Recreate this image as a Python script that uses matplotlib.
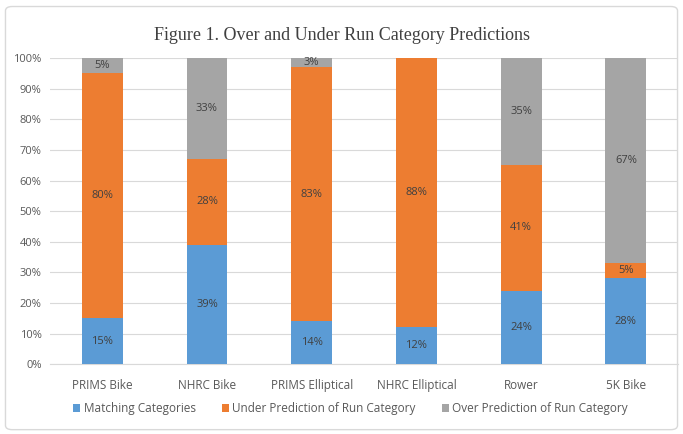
import matplotlib
matplotlib.use("Agg")
import matplotlib.pyplot as plt
from matplotlib.patches import FancyBboxPatch
import numpy as np

categories = ["PRIMS Bike", "NHRC Bike", "PRIMS Elliptical", "NHRC Elliptical", "Rower", "5K Bike"]
matching = [15, 39, 14, 12, 24, 28]
under = [80, 28, 83, 88, 41, 5]
over = [5, 33, 3, 0, 35, 67]
series_names = ["Matching Categories", "Under Prediction of Run Category", "Over Prediction of Run Category"]
colors = ["#5B9BD5", "#ED7D31", "#A5A5A5"]
yticks = [0, 10, 20, 30, 40, 50, 60, 70, 80, 90, 100]

fig = plt.figure(figsize=(6.83, 4.34), dpi=100)
fig.patch.set_facecolor("white")
border = FancyBboxPatch((0.008, 0.01), 0.984, 0.975, boxstyle="round,pad=0,rounding_size=0.01",
                        transform=fig.transFigure, fill=False, edgecolor="#D9D9D9", linewidth=1.0)
fig.patches.append(border)

ax = fig.add_axes([0.073, 0.161, 0.92, 0.705])
x = np.arange(len(categories))
bottom = np.zeros(len(categories))
for vals, name, c in zip([matching, under, over], series_names, colors):
    vals = np.array(vals, dtype=float)
    ax.bar(x, vals, width=0.39, bottom=bottom, color=c, label=name, zorder=3)
    for xi, v, b in zip(x, vals, bottom):
        if v > 0:
            ax.text(xi, b + v / 2, f"{int(v)}%", ha="center", va="center",
                    fontsize=8, color="#404040", zorder=4, family="Open Sans")
    bottom += vals

ax.set_xlim(-0.5, len(categories) - 0.5)
ax.set_ylim(0, 100)
ax.set_yticks(yticks)
ax.set_yticklabels([f"{t}%" for t in yticks], fontsize=8, color="#595959", family="Open Sans")
ax.set_xticks(x)
ax.set_xticklabels(categories, fontsize=8.5, color="#595959", family="Open Sans")
ax.tick_params(axis="y", length=0, pad=6)
ax.tick_params(axis="x", length=0, pad=11)
ax.yaxis.grid(True, color="#D9D9D9", linewidth=0.8, zorder=0)
for s in ["top", "right", "left"]:
    ax.spines[s].set_visible(False)
ax.spines["bottom"].set_color("#D9D9D9")

fig.text(0.5, 0.918, "Figure 1. Over and Under Run Category Predictions", ha="center", va="center",
         fontsize=13, color="#404040", family="Liberation Serif")

leg = fig.legend(loc="center", bbox_to_anchor=(0.513, 0.058), ncol=3, frameon=False,
                 handlelength=0.6, handleheight=0.6, handletextpad=0.3, columnspacing=2.2,
                 prop={"family": "Open Sans", "size": 8.5})
for t in leg.get_texts():
    t.set_color("#595959")

fig.savefig("out.png", dpi=100)
